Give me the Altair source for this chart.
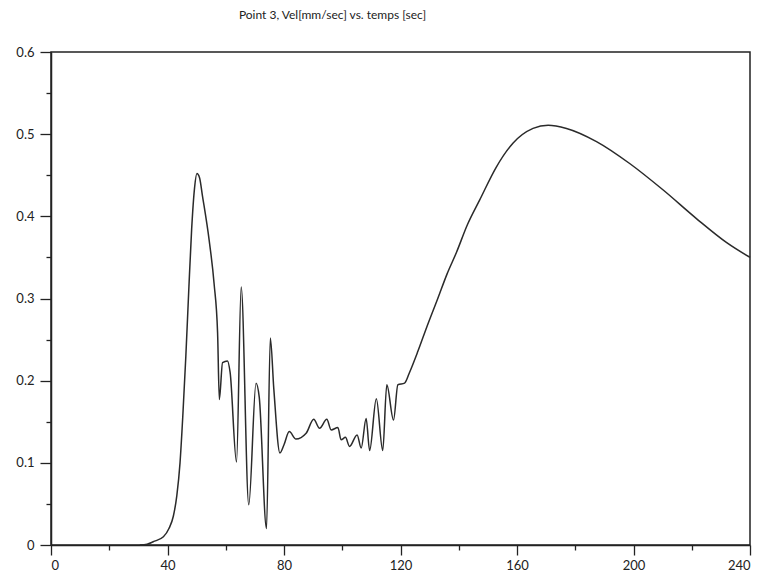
import altair as alt
import pandas as pd

# time [sec]
t = [30.5, 33.0, 35.1, 38.6, 40.5, 42.0, 43.2, 44.3, 45.3, 46.3, 47.3, 48.3, 49.3, 50.1,
     51.0, 52.0, 54.3, 56.0, 57.2, 57.8, 58.9, 60.6, 61.5, 63.7, 65.3, 67.9, 70.4,
     71.5, 74.0, 75.3, 76.5, 78.6, 80.0, 81.8, 84.1, 87.6, 90.2, 92.2, 94.7, 96.2,
     98.5, 99.6, 101.1, 102.5, 105.1, 106.5, 108.2, 109.4, 111.7, 113.9, 115.3,
     117.6, 119.1, 121.4, 123.1, 126.0, 129.0, 132.8, 136.0, 139.2, 143.0, 147.2,
     152.9, 158.6, 165.5, 170.7, 177.0, 187.3, 198.8, 210.2, 221.7, 232.0, 240.0]
# velocity [mm/sec]
v = [0.0, 0.001, 0.004, 0.010, 0.02, 0.035, 0.06, 0.10, 0.16, 0.23, 0.31, 0.385, 0.435, 0.452,
     0.447, 0.425, 0.371, 0.318, 0.258, 0.177, 0.222, 0.224, 0.21, 0.101, 0.314, 0.049, 0.197,
     0.18, 0.020, 0.252, 0.19, 0.112, 0.122, 0.138, 0.129, 0.136, 0.153, 0.142, 0.153, 0.140,
     0.143, 0.128, 0.131, 0.120, 0.134, 0.118, 0.154, 0.115, 0.178, 0.115, 0.195,
     0.152, 0.195, 0.197, 0.21, 0.236, 0.265, 0.30, 0.33, 0.356, 0.39, 0.42,
     0.46, 0.489, 0.507, 0.511, 0.507, 0.491, 0.464, 0.432, 0.397, 0.368, 0.350]

x_ticks = list(range(0, 241, 20))
y_ticks = [round(i * 0.05, 2) for i in range(13)]
title_text = "Point 3, Vel[mm/sec] vs. temps [sec]"

df = pd.DataFrame({"t": t, "v": v})

FONT = "Lato"

chart = alt.Chart(df).mark_line(
    color="#2a2a2a", strokeWidth=1.5, interpolate="monotone"
).encode(
    x=alt.X("t:Q", scale=alt.Scale(domain=[0, 240], nice=False),
            axis=alt.Axis(values=x_ticks, title=None, grid=False,
                          labelExpr="datum.value % 40 === 0 ? format(datum.value, 'd') : ''",
                          tickSize={"condition": {"test": "datum.value % 40 === 0", "value": 10}, "value": 5},
                          labelPadding=4)),
    y=alt.Y("v:Q", scale=alt.Scale(domain=[0, 0.6], nice=False),
            axis=alt.Axis(values=y_ticks, title=None, grid=False,
                          labelExpr="round(datum.value*100) % 10 === 0 ? format(datum.value, '~g') : ''",
                          tickSize={"condition": {"test": "round(datum.value*100) % 10 === 0", "value": 11}, "value": 5},
                          labelPadding=6)),
).properties(
    width=699, height=493,
    autosize=alt.AutoSizeParams(type="none"),
    padding={"left": 43, "top": 44, "right": 6, "bottom": 31},
    title=alt.TitleParams(title_text, font=FONT, fontSize=12, fontWeight="normal",
                          color="#222", dx=-68, offset=24, anchor="middle"),
).configure_view(
    stroke="#222", strokeWidth=1.5
).configure_axis(
    domainColor="#222", domainWidth=1.5, tickColor="#222", tickWidth=1.3,
    labelColor="#222", labelFont=FONT, labelFontSize=13
)

chart.save("out.html", embed_options={"renderer": "svg", "actions": False})
